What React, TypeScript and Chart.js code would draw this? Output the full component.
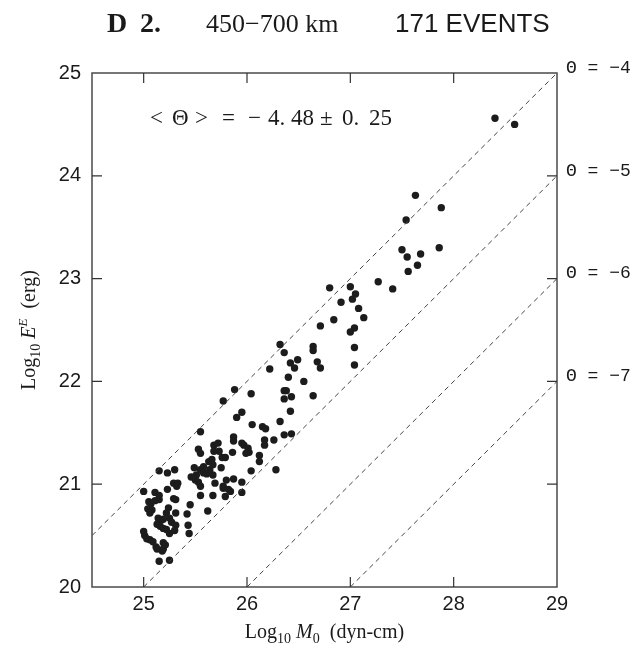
import React, { useEffect, useRef } from "react";
import { Chart, registerables } from "chart.js";

Chart.register(...registerables);

// ---- data ----
const logM0 = [
  28.40, 28.59, 27.63, 27.88, 27.54, 27.50, 27.55, 27.68, 27.86, 27.65,
  27.56, 27.27, 27.41, 26.80, 27.00, 27.05, 27.02, 26.91, 27.08, 26.84,
  27.13, 27.04, 27.00, 27.04, 27.04, 26.71, 26.64, 26.64, 26.68, 26.71,
  26.32, 26.36, 26.49, 26.42, 26.46, 26.22, 26.40, 26.55, 26.36, 26.38,
  26.36, 26.43, 26.64, 26.42, 26.32, 26.26, 26.36, 26.43, 25.88, 26.04,
  25.77, 25.95, 25.90, 26.05, 26.15, 26.18, 25.55, 25.87, 25.87, 25.68,
  25.72, 25.95, 25.97, 26.01, 26.02, 26.17, 26.17, 25.53, 25.68, 25.73,
  25.86, 25.79, 25.76, 25.66, 25.63, 25.55, 26.12, 26.12, 26.28, 26.04,
  25.75, 25.55, 25.64, 25.67, 25.58, 25.80, 25.87, 25.95, 25.69, 25.77,
  25.77, 25.84, 25.95, 25.55, 25.67, 25.79, 25.55, 25.67, 25.61, 25.15,
  25.23, 25.30, 25.49, 25.58, 25.46, 25.51, 25.50, 25.53, 25.29, 25.33,
  25.32, 25.23, 25.00, 25.11, 25.29, 25.31, 25.05, 25.07, 25.11, 25.45,
  25.04, 25.08, 25.06, 25.24, 25.22, 25.31, 25.62, 25.42, 25.14, 25.17,
  25.19, 25.15, 25.25, 25.27, 25.13, 25.16, 25.19, 25.31, 25.30, 25.43,
  25.22, 25.25, 25.44, 25.00, 25.01, 25.03, 25.06, 25.09, 25.19, 25.21,
  25.12, 25.13, 25.19, 25.18, 25.15, 25.25, 25.15, 25.15, 25.82, 25.99,
];
const logEE = [
  24.56, 24.50, 23.81, 23.69, 23.57, 23.28, 23.21, 23.24, 23.30, 23.13,
  23.07, 22.97, 22.90, 22.91, 22.92, 22.85, 22.80, 22.77, 22.71, 22.60,
  22.62, 22.52, 22.48, 22.33, 22.16, 22.54, 22.34, 22.30, 22.19, 22.13,
  22.36, 22.28, 22.21, 22.18, 22.13, 22.12, 22.04, 22.00, 21.91, 21.91,
  21.83, 21.85, 21.86, 21.71, 21.61, 21.43, 21.48, 21.49, 21.92, 21.88,
  21.81, 21.70, 21.65, 21.58, 21.56, 21.54, 21.51, 21.46, 21.42, 21.38,
  21.40, 21.40, 21.38, 21.35, 21.31, 21.43, 21.38, 21.34, 21.32, 21.32,
  21.31, 21.26, 21.26, 21.24, 21.22, 21.30, 21.28, 21.22, 21.14, 21.13,
  21.16, 21.14, 21.14, 21.09, 21.11, 21.04, 21.05, 21.02, 21.01, 20.98,
  20.96, 20.93, 20.92, 20.98, 20.89, 20.88, 20.89, 21.19, 21.10, 21.13,
  21.11, 21.14, 21.16, 21.17, 21.07, 21.09, 21.04, 21.02, 21.01, 21.01,
  20.98, 20.95, 20.93, 20.92, 20.86, 20.85, 20.83, 20.81, 20.84, 20.80,
  20.76, 20.75, 20.72, 20.77, 20.72, 20.72, 20.74, 20.71, 20.67, 20.65,
  20.66, 20.64, 20.67, 20.63, 20.61, 20.59, 20.57, 20.60, 20.55, 20.60,
  20.56, 20.52, 20.52, 20.54, 20.50, 20.47, 20.46, 20.44, 20.43, 20.41,
  20.39, 20.37, 20.37, 20.35, 20.25, 20.26, 20.89, 20.85, 20.95, 21.30,
];
const thetaValues = [-4, -5, -6, -7];
const xTicks = [25, 26, 27, 28, 29];
const yTicks = [20, 21, 22, 23, 24, 25];
const xMin = 24.5;
const xMax = 29;
const yMin = 20;
const yMax = 25;
const meanThetaParts = ["<", "Θ", ">", "=", "−", "4.", "48", "±", "0.", "25"];

const SERIF = "'Liberation Serif', 'Times New Roman', serif";
const SANS = "'Liberation Sans', Arial, sans-serif";
const MONO = "'Liberation Mono', 'DejaVu Sans Mono', monospace";

type Part = { t: string; font: string; dy?: number };

function drawRich(ctx: CanvasRenderingContext2D, parts: Part[], x: number, y: number) {
  let total = 0;
  for (const p of parts) {
    ctx.font = p.font;
    total += ctx.measureText(p.t).width;
  }
  let cx = x - total / 2;
  ctx.textAlign = "left";
  ctx.textBaseline = "alphabetic";
  for (const p of parts) {
    ctx.font = p.font;
    ctx.fillText(p.t, cx, y + (p.dy || 0));
    cx += ctx.measureText(p.t).width;
  }
}

const decorPlugin = {
  id: "decor",
  afterDraw(chart: any) {
    const ctx: CanvasRenderingContext2D = chart.ctx;
    const { left, right, top, bottom } = chart.chartArea;
    const xs = chart.scales.x;
    const ys = chart.scales.y;
    ctx.save();
    // frame
    ctx.strokeStyle = "#4a4a4a";
    ctx.lineWidth = 1.5;
    ctx.strokeRect(left, top, right - left, bottom - top);
    // inward ticks
    ctx.lineWidth = 1.2;
    ctx.strokeStyle = "#333";
    ctx.beginPath();
    for (const v of xTicks) {
      if (v <= xMin || v >= xMax) continue;
      const px = xs.getPixelForValue(v);
      ctx.moveTo(px, bottom);
      ctx.lineTo(px, bottom - 10);
      ctx.moveTo(px, top);
      ctx.lineTo(px, top + 10);
    }
    for (const v of yTicks) {
      if (v <= yMin || v >= yMax) continue;
      const py = ys.getPixelForValue(v);
      ctx.moveTo(left, py);
      ctx.lineTo(left + 10, py);
      ctx.moveTo(right, py);
      ctx.lineTo(right - 10, py);
    }
    ctx.stroke();

    ctx.fillStyle = "#1a1a1a";
    // theta labels on the right
    ctx.font = "18px " + MONO;
    ctx.textAlign = "left";
    ctx.textBaseline = "middle";
    for (const th of thetaValues) {
      const py = ys.getPixelForValue(xMax + th) - 5;
      ctx.fillText("Θ = −" + String(-th), right + 9, py);
    }

    // mean theta annotation
    ctx.font = "23px " + SERIF;
    ctx.textBaseline = "middle";
    const annY = ys.getPixelForValue(24.55);
    const annX = [150, 172, 195, 222, 248, 268, 291, 320, 342, 369];
    meanThetaParts.forEach((t, i) => {
      ctx.fillText(t, annX[i], annY);
    });

    // title
    ctx.textBaseline = "alphabetic";
    ctx.font = "bold 28px " + SERIF;
    ctx.fillText("D", 107, 32);
    ctx.fillText("2.", 140, 32);
    ctx.font = "26px " + SERIF;
    ctx.fillText("450−700 km", 206, 32);
    ctx.font = "26px " + SANS;
    ctx.fillText("171 EVENTS", 395, 32);

    // x axis title
    const cxm = (left + right) / 2;
    drawRich(ctx, [
      { t: "Log", font: "20px " + SERIF },
      { t: "10", font: "14px " + SERIF, dy: 5 },
      { t: " ", font: "20px " + SERIF },
      { t: "M", font: "italic 20px " + SERIF },
      { t: "0", font: "14px " + SERIF, dy: 5 },
      { t: "  (dyn-cm)", font: "20px " + SERIF },
    ], cxm, 638);

    // y axis title (rotated)
    ctx.save();
    ctx.translate(35, (top + bottom) / 2);
    ctx.rotate(-Math.PI / 2);
    drawRich(ctx, [
      { t: "Log", font: "20px " + SERIF },
      { t: "10", font: "14px " + SERIF, dy: 5 },
      { t: " ", font: "20px " + SERIF },
      { t: "E", font: "italic 20px " + SERIF },
      { t: "E", font: "italic 13px " + SERIF, dy: -8 },
      { t: "  (erg)", font: "20px " + SERIF },
    ], 0, 0);
    ctx.restore();

    ctx.restore();
  },
};

export default function App() {
  const ref = useRef<HTMLCanvasElement | null>(null);

  useEffect(() => {
    if (!ref.current) return;
    const points = logM0.map((m, i) => ({ x: m, y: logEE[i] }));
    const lineSets = thetaValues.map((th) => {
      const x0 = Math.max(xMin, yMin - th);
      return {
        type: "line" as const,
        data: [
          { x: x0, y: x0 + th },
          { x: xMax, y: xMax + th },
        ],
        borderColor: "#444",
        borderWidth: 1,
        borderDash: [5, 4],
        pointRadius: 0,
        showLine: true,
        fill: false,
      };
    });
    const chart = new Chart(ref.current, {
      type: "scatter",
      data: {
        datasets: [
          ...lineSets,
          {
            type: "scatter" as const,
            data: points,
            backgroundColor: "#1c1c1c",
            borderWidth: 0,
            pointRadius: 3.7,
          },
        ] as any,
      },
      options: {
        responsive: false,
        animation: false,
        devicePixelRatio: 1,
        layout: { padding: { left: 0, top: 73, right: 75, bottom: 0 } },
        plugins: {
          legend: { display: false },
          tooltip: { enabled: false },
        },
        scales: {
          x: {
            type: "linear",
            min: xMin,
            max: xMax,
            grid: { display: false, drawTicks: false },
            border: { display: false },
            afterBuildTicks: (s: any) => {
              s.ticks = xTicks.map((v) => ({ value: v }));
            },
            afterFit: (s: any) => {
              s.height = 63;
            },
            ticks: {
              color: "#1a1a1a",
              font: { family: SANS, size: 20 },
              padding: 5,
              maxRotation: 0,
              autoSkip: false,
            },
          },
          y: {
            type: "linear",
            min: yMin,
            max: yMax,
            grid: { display: false, drawTicks: false },
            border: { display: false },
            afterBuildTicks: (s: any) => {
              s.ticks = yTicks.map((v) => ({ value: v }));
            },
            afterFit: (s: any) => {
              s.width = 92;
            },
            ticks: {
              color: "#1a1a1a",
              font: { family: SANS, size: 20 },
              padding: 11,
              autoSkip: false,
            },
          },
        },
      } as any,
      plugins: [decorPlugin],
    });
    return () => chart.destroy();
  }, []);

  return (
    <div style={{ position: "absolute", left: 0, top: 0, width: 632, height: 650, background: "#fff" }}>
      <canvas ref={ref} width={632} height={650} style={{ display: "block", width: 632, height: 650 }} />
    </div>
  );
}
